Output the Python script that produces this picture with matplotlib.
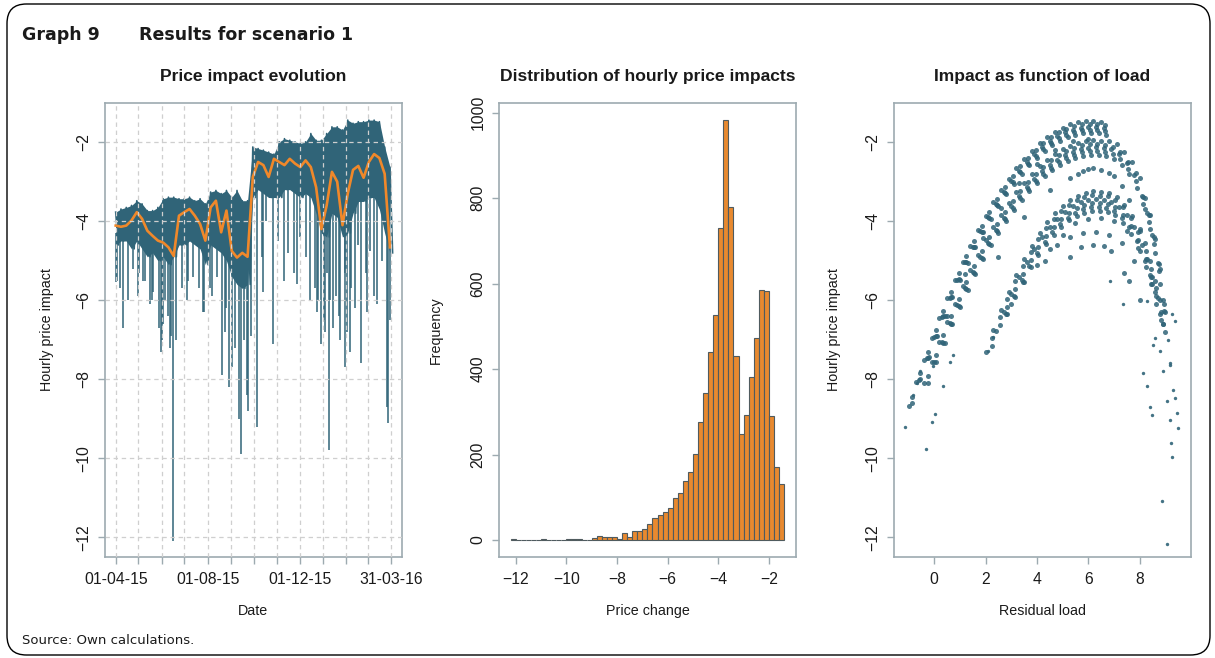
import numpy as np
import pandas as pd
import matplotlib
matplotlib.use('Agg')
import matplotlib.pyplot as plt
from matplotlib.patches import FancyBboxPatch

# --- Data ---

# Panel 1: weekly envelope of the hourly series (top of band / edge of the solid part) and the orange moving average
week_start = pd.date_range('2015-04-01', periods=53, freq='7D')
band_high = [-3.77, -3.69, -3.65, -3.60, -3.48, -3.56, -3.73, -3.73, -3.65, -3.43,
             -3.39, -3.39, -3.43, -3.43, -3.39, -3.48, -3.43, -3.56, -3.26, -3.22,
             -3.30, -3.22, -3.39, -3.22, -3.48, -3.48, -2.12, -2.16, -2.20, -2.25,
             -2.30, -1.99, -1.91, -1.95, -1.99, -2.03, -1.99, -1.78, -1.95, -1.95,
             -1.78, -1.61, -1.61, -1.69, -1.44, -1.52, -1.48, -1.48, -1.44, -1.44,
             -1.48, -2.12, -2.63]
band_low = [-4.6, -4.5, -4.5, -4.7, -4.5, -4.7, -4.9, -4.8, -5.0, -4.9,
            -5.1, -4.9, -4.6, -4.6, -4.5, -4.6, -4.7, -5.1, -4.6, -4.7,
            -4.8, -5.0, -5.4, -5.6, -5.7, -5.6, -3.4, -3.2, -3.3, -3.4,
            -3.4, -3.4, -3.2, -3.2, -3.3, -3.4, -3.3, -3.4, -3.8, -4.3,
            -4.4, -3.8, -3.9, -4.4, -4.3, -3.8, -3.5, -3.5, -3.4, -3.4,
            -3.7, -4.3, -4.8]
moving_avg = [-4.11, -4.14, -4.11, -3.98, -3.77, -3.94, -4.24, -4.37, -4.49, -4.54,
              -4.66, -4.88, -3.86, -3.77, -3.69, -3.86, -4.07, -4.49, -3.65, -3.48,
              -4.28, -3.73, -4.75, -4.92, -4.80, -4.90, -2.88, -2.50, -2.58, -2.88,
              -2.42, -2.50, -2.58, -2.42, -2.54, -2.63, -2.46, -2.63, -3.14, -4.20,
              -3.60, -2.75, -3.00, -4.10, -3.30, -2.70, -2.60, -2.90, -2.50, -2.30,
              -2.40, -2.80, -4.66]
spike_dates = ['2015-04-02', '2015-04-03', '2015-04-07', '2015-04-11', '2015-04-17',
               '2015-04-24', '2015-05-01', '2015-05-02', '2015-05-07', '2015-05-10',
               '2015-05-16', '2015-05-19', '2015-05-21', '2015-05-28', '2015-05-31',
               '2015-06-01', '2015-06-03', '2015-06-05', '2015-06-10', '2015-06-12',
               '2015-06-14', '2015-06-16', '2015-06-20', '2015-06-28', '2015-07-04',
               '2015-07-06', '2015-07-13', '2015-07-20', '2015-07-26', '2015-07-27',
               '2015-08-04', '2015-08-07', '2015-08-13', '2015-08-20', '2015-08-24',
               '2015-08-26', '2015-08-30', '2015-09-02', '2015-09-06', '2015-09-11',
               '2015-09-14', '2015-09-18', '2015-09-22', '2015-09-24', '2015-09-27',
               '2015-10-05', '2015-10-12', '2015-10-14', '2015-10-18', '2015-10-27',
               '2015-11-03', '2015-11-10', '2015-11-16', '2015-11-23', '2015-11-28',
               '2015-12-02', '2015-12-09', '2015-12-15', '2015-12-22', '2015-12-24',
               '2015-12-26', '2015-12-30', '2016-01-02', '2016-01-04', '2016-01-07',
               '2016-01-09', '2016-01-11', '2016-01-15', '2016-01-18', '2016-01-22',
               '2016-01-24', '2016-01-30', '2016-01-31', '2016-02-02', '2016-02-06',
               '2016-02-07', '2016-02-13', '2016-02-16', '2016-02-20', '2016-02-27',
               '2016-02-29', '2016-03-04', '2016-03-09', '2016-03-13', '2016-03-20',
               '2016-03-26', '2016-03-27', '2016-03-30']
spike_values = [-5.55, -5.5, -5.7, -6.7, -6.0,
                -5.2, -5.9, -5.3, -5.5, -5.5,
                -6.1, -6.0, -5.8, -6.7, -7.3,
                -7.0, -6.6, -6.0, -6.4, -7.2,
                -6.9, -12.1, -7.0, -5.7, -6.0,
                -5.5, -5.4, -5.7, -6.3, -6.3,
                -5.7, -5.9, -5.4, -7.9, -6.8,
                -6.2, -8.2, -7.7, -7.2, -9.0,
                -9.9, -7.0, -8.4, -8.8, -6.9,
                -9.2, -4.9, -5.8, -4.0, -7.1,
                -4.5, -5.5, -4.8, -5.3, -5.6,
                -4.4, -4.9, -6.0, -5.7, -6.3,
                -6.0, -7.1, -6.5, -6.8, -5.3,
                -9.8, -6.0, -6.7, -5.9, -6.4,
                -7.0, -7.7, -5.3, -6.8, -7.3,
                -5.7, -6.2, -4.6, -7.6, -5.3,
                -6.3, -4.75, -5.9, -6.1, -5.0,
                -8.7, -9.1, -6.5]
month_ticks = ['2015-04-01', '2015-05-01', '2015-06-01', '2015-07-01', '2015-08-01',
               '2015-09-01', '2015-10-01', '2015-11-01', '2015-12-01', '2016-01-01',
               '2016-02-01', '2016-03-01', '2016-03-31']
month_labels = ['01-04-15', '', '', '', '01-08-15', '', '', '', '01-12-15', '', '', '', '31-03-16']

# Panel 2: histogram, bins of 0.2 from -12.2 to -1.4
bin_left = np.round(np.arange(-12.2, -1.5, 0.2), 1)
bin_counts = [3, 0, 0, 0, 0, 0, 2, 0, 0, 0,
              0, 2, 2, 2, 0, 1, 5, 9, 6, 8,
              8, 2, 17, 8, 20, 20, 26, 37, 51, 58,
              66, 75, 98, 110, 138, 159, 202, 275, 345, 440,
              527, 731, 982, 780, 431, 248, 292, 382, 473, 586,
              583, 289, 171, 130]

# Panel 3: residual load vs impact, points read along the visible arcs
load_top = [-1.0, -0.7, -0.4, -0.1, 0.2, 0.5, 0.8, 1.1, 1.4, 1.7, 2.0, 2.3, 2.6, 2.9, 3.2, 3.5,
            3.8, 4.1, 4.4, 4.7, 5.0, 5.3, 5.6, 5.9, 6.2, 6.5,
            -0.6, -0.3, 0.0, 0.3, 0.6, 0.9, 1.2, 1.5, 1.8, 2.1, 2.4, 2.7, 3.0, 3.3, 3.6, 3.9,
            4.2, 4.5, 4.8, 5.1, 5.4, 5.7, 6.0, 6.3, 6.6,
            -0.2, 0.1, 0.4, 0.7, 1.0, 1.3, 1.6, 1.9, 2.2, 2.5, 2.8, 3.1, 3.4, 3.7, 4.0, 4.3,
            4.6, 4.9, 5.2, 5.5, 5.8, 6.1, 6.4, 6.7,
            0.5, 1.2, 1.9, 2.6, 3.3, 4.0, 4.7, 5.4, 6.0,
            -0.85, -0.55, -0.25, 0.05, 0.35, 0.65, 0.95, 1.25, 1.55, 1.85, 2.15, 2.45, 2.75,
            3.05, 3.35, 3.65, 3.95, 4.25, 4.55, 4.85, 5.15, 5.45, 5.75, 6.05, 6.35, 6.65,
            -0.85, -0.55, -0.25, 0.05, 0.35, 0.65, 0.95, 1.25, 1.55, 1.85, 2.15, 2.45, 2.75,
            3.05, 3.35, 3.65, 3.95, 4.25, 4.55, 4.85, 5.15, 5.45, 5.75, 6.05, 6.35, 6.65]
impact_top = [-8.67, -8.07, -7.50, -6.96, -6.44, -5.94, -5.48, -5.04, -4.62, -4.23, -3.86, -3.52,
              -3.21, -2.92, -2.66, -2.43, -2.22, -2.03, -1.87, -1.74, -1.63, -1.55, -1.50, -1.47,
              -1.46, -1.48,
              -8.03, -7.47, -6.93, -6.42, -5.94, -5.48, -5.04, -4.64, -4.25, -3.90, -3.57, -3.26,
              -2.98, -2.73, -2.50, -2.30, -2.13, -1.98, -1.85, -1.75, -1.68, -1.63, -1.61, -1.62,
              -1.65,
              -7.44, -6.91, -6.41, -5.93, -5.48, -5.05, -4.66, -4.28, -3.94, -3.61, -3.32, -3.05,
              -2.80, -2.58, -2.39, -2.22, -2.08, -1.97, -1.88, -1.81, -1.77, -1.76, -1.77, -1.81,
              -6.39, -5.34, -4.43, -3.66, -3.03, -2.54, -2.19, -1.98, -1.91,
              -8.44, -7.85, -7.30, -6.76, -6.26, -5.78, -5.32, -4.89, -4.49, -4.11, -3.76, -3.43,
              -3.13, -2.86, -2.61, -2.39, -2.19, -2.02, -1.87, -1.75, -1.66, -1.59, -1.55, -1.53,
              -1.54, -1.57,
              -8.59, -8.00, -7.45, -6.91, -6.41, -5.93, -5.47, -5.04, -4.64, -4.26, -3.91, -3.58,
              -3.28, -3.01, -2.76, -2.54, -2.34, -2.17, -2.02, -1.90, -1.81, -1.74, -1.70, -1.68,
              -1.69, -1.72]
load_second = [-0.4, -0.1, 0.2, 0.5, 0.8, 1.1, 1.4, 1.7, 2.0, 2.3, 2.6, 2.9, 3.2, 3.5, 3.8, 4.1,
               4.4, 4.7, 5.0, 5.3, 5.6, 5.9, 6.2, 6.5, 6.8, 7.1, 7.4, 7.7, 8.0, 8.2, 8.4, 8.6,
               8.8, 9.0,
               0.0, 0.3, 0.6, 0.9, 1.2, 1.5, 1.8, 2.1, 2.4, 2.7, 3.0, 3.3, 3.6, 3.9, 4.2, 4.5,
               4.8, 5.1, 5.4, 5.7, 6.0, 6.3, 6.6, 6.9, 7.2, 7.5, 7.8, 8.1, 8.3, 8.5, 8.7, 8.9,
               0.4, 0.7, 1.0, 1.3, 1.6, 1.9, 2.2, 2.5, 2.8, 3.1, 3.4, 3.7, 4.0, 4.3, 4.6, 4.9,
               5.2, 5.5, 5.8, 6.1, 6.4, 6.7, 7.0, 7.3, 7.6, 7.9, 8.2, 8.4, 8.6, 8.8,
               2.5, 3.5, 4.5, 5.3, 5.6, 5.8, 6.0, 6.2, 6.5, 6.8, 7.0, 7.3, 7.6, 8.0,
               -0.25, 0.05, 0.35, 0.65, 0.95, 1.25, 1.55, 1.85, 2.15, 2.45, 2.75, 3.05, 3.35,
               3.65, 3.95, 4.25, 4.55, 4.85, 5.15, 5.45, 5.75, 6.05, 6.35, 6.65, 6.95, 7.25,
               7.55, 7.85, 8.15, 8.35, 8.55, 8.75, 8.95,
               -0.25, 0.05, 0.35, 0.65, 0.95, 1.25, 1.55, 1.85, 2.15, 2.45, 2.75, 3.05, 3.35,
               3.65, 3.95, 4.25, 4.55, 4.85, 5.15, 5.45, 5.75, 6.05, 6.35, 6.65, 6.95, 7.25,
               7.55, 7.85, 8.15, 8.35, 8.55, 8.75, 8.95]
impact_second = [-8.10, -7.56, -7.05, -6.56, -6.09, -5.65, -5.24, -4.85, -4.48, -4.14, -3.83,
                 -3.53, -3.27, -3.02, -2.81, -2.61, -2.44, -2.30, -2.18, -2.09, -2.02, -1.97,
                 -1.95, -1.96, -1.98, -2.05, -2.25, -2.50, -2.90, -3.40, -3.85, -4.45, -5.20,
                 -6.30,
                 -7.57, -7.06, -6.58, -6.12, -5.69, -5.29, -4.90, -4.55, -4.21, -3.91, -3.62,
                 -3.36, -3.13, -2.92, -2.73, -2.57, -2.44, -2.33, -2.24, -2.18, -2.14, -2.13,
                 -2.15, -2.18, -2.30, -2.52, -2.82, -3.35, -3.80, -4.35, -5.05, -6.00,
                 -7.08, -6.61, -6.16, -5.74, -5.34, -4.96, -4.61, -4.29, -3.99, -3.71, -3.46,
                 -3.24, -3.03, -2.86, -2.71, -2.58, -2.48, -2.40, -2.34, -2.32, -2.32, -2.34,
                 -2.42, -2.58, -2.80, -3.15, -3.70, -4.20, -4.80, -5.60,
                 -4.90, -3.90, -3.20, -2.90, -2.80, -2.72, -2.67, -2.66, -2.70, -2.78, -2.85,
                 -3.10, -3.45, -4.20,
                 -7.92, -7.39, -6.89, -6.41, -5.96, -5.53, -5.13, -4.75, -4.40, -4.07, -3.77,
                 -3.49, -3.23, -3.00, -2.80, -2.62, -2.46, -2.33, -2.22, -2.14, -2.08, -2.05,
                 -2.04, -2.06, -2.11, -2.24, -2.49, -2.79, -3.39, -3.84, -4.39, -5.09, -6.09,
                 -8.10, -7.57, -7.07, -6.59, -6.14, -5.71, -5.31, -4.93, -4.58, -4.25, -3.95,
                 -3.67, -3.41, -3.18, -2.98, -2.80, -2.64, -2.51, -2.40, -2.32, -2.26, -2.23,
                 -2.22, -2.24, -2.29, -2.42, -2.67, -2.97, -3.57, -4.02, -4.57, -5.27, -6.27]
load_lower = [2.0, 2.3, 2.6, 2.9, 3.2, 3.5, 3.8, 4.1, 4.4, 4.7, 5.0, 5.3, 5.6, 5.9, 6.2, 6.5,
              6.8, 7.1, 7.4, 7.7, 8.0, 8.2, 8.4, 8.6, 8.8, 9.0,
              2.4, 2.7, 3.0, 3.3, 3.6, 3.9, 4.2, 4.5, 4.8, 5.1, 5.4, 5.7, 6.0, 6.3, 6.6, 6.9,
              7.2, 7.5, 7.8, 8.1, 8.3, 8.5, 8.7, 8.9,
              2.8, 3.1, 3.4, 3.7, 4.0, 4.3, 4.6, 4.9, 5.2, 5.5, 5.8, 6.1, 6.4, 6.7, 7.0, 7.3,
              7.6, 7.9, 8.2, 8.4, 8.6, 8.8,
              3.0, 3.5, 4.0, 4.5, 5.0, 5.5, 6.0, 6.5, 7.0, 7.5, 8.0, 8.5, 8.9,
              4.3, 4.8, 5.3, 5.8, 6.3, 6.8, 7.3, 7.8,
              5.3, 5.7, 6.2, 6.6, 6.9, 7.4, 7.6, 8.0,
              2.25, 2.55, 2.85, 3.15, 3.45, 3.75, 4.05, 4.35, 4.65, 4.95, 5.25, 5.55, 5.85,
              6.15, 6.45, 6.75, 7.05, 7.35, 7.65, 7.95, 8.25, 8.45, 8.65, 8.85,
              2.25, 2.55, 2.85, 3.15, 3.45, 3.75, 4.05, 4.35, 4.65, 4.95, 5.25, 5.55, 5.85,
              6.15, 6.45, 6.75, 7.05, 7.35, 7.65, 7.95, 8.25, 8.45, 8.65, 8.85,
              2.85, 3.15, 3.45, 3.75, 4.05, 4.35, 4.65, 4.95, 5.25, 5.55, 5.85, 6.15, 6.45,
              6.75, 7.05, 7.35, 7.65, 7.95, 8.25, 8.45, 8.65]
impact_lower = [-7.31, -6.76, -6.25, -5.78, -5.35, -4.96, -4.62, -4.30, -4.03, -3.80, -3.61,
                -3.46, -3.35, -3.28, -3.24, -3.25, -3.28, -3.38, -3.60, -3.88, -4.25, -4.55,
                -5.00, -5.50, -6.00, -6.80,
                -6.79, -6.29, -5.84, -5.42, -5.04, -4.71, -4.41, -4.15, -3.94, -3.76, -3.62,
                -3.52, -3.46, -3.44, -3.46, -3.52, -3.65, -3.85, -4.15, -4.60, -4.95, -5.40,
                -5.95, -6.60,
                -6.34, -5.89, -5.49, -5.13, -4.80, -4.52, -4.28, -4.07, -3.91, -3.78, -3.70,
                -3.65, -3.64, -3.66, -3.75, -3.92, -4.15, -4.50, -5.00, -5.35, -5.80, -6.35,
                -6.10, -5.55, -5.10, -4.70, -4.35, -4.05, -3.94, -3.92, -4.00, -4.25, -4.75,
                -5.60, -6.60,
                -5.00, -4.60, -4.40, -4.30, -4.28, -4.35, -4.55, -5.00,
                -4.90, -4.66, -4.60, -4.62, -4.75, -5.30, -5.50, -6.00,
                -6.95, -6.43, -5.96, -5.52, -5.13, -4.77, -4.45, -4.18, -3.94, -3.74, -3.58,
                -3.46, -3.38, -3.34, -3.35, -3.37, -3.45, -3.65, -3.92, -4.28, -4.75, -5.20,
                -5.70, -6.30,
                -7.15, -6.63, -6.16, -5.72, -5.33, -4.97, -4.65, -4.38, -4.14, -3.94, -3.78,
                -3.66, -3.58, -3.54, -3.55, -3.57, -3.65, -3.85, -4.12, -4.48, -4.95, -5.40,
                -5.90, -6.50,
                -6.36, -5.92, -5.53, -5.17, -4.85, -4.58, -4.34, -4.14, -3.98, -3.86, -3.78,
                -3.74, -3.75, -3.77, -3.85, -4.05, -4.32, -4.68, -5.15, -5.60, -6.10]
load_outlier = [-1.14, -0.82, -0.69, -0.56, -0.32, -0.08, 0.03, -0.06, 0.35, 0.61, 0.74, 2.10,
                2.27, 8.14, 8.27, 8.40, 8.47, 8.60, 8.86, 9.05, 8.92, 9.05, 9.18, 9.21, 9.25,
                9.31, 9.38, 9.44, 9.50, 9.18, 8.79, 8.53, 9.25, 9.38, 8.27, 7.37, 6.85, 9.10,
                9.20]
impact_outlier = [-9.20, -8.40, -8.10, -7.80, -9.77, -9.07, -8.88, -7.67, -8.18, -7.55, -7.38,
                  -7.28, -6.94, -7.84, -8.18, -8.69, -8.90, -6.95, -11.07, -12.17, -7.80, -8.56,
                  -9.03, -9.61, -9.96, -8.27, -8.48, -8.86, -9.24, -7.63, -7.29, -7.12, -6.36,
                  -6.53, -6.02, -6.10, -5.51, -7.00, -7.60]

# --- Style ---
TEAL = '#306478'
ORANGE = '#F0882A'
BAR_FILL = '#E8892F'
BAR_EDGE = '#4F5B5F'
FRAME = '#9DAAB0'
TXT = '#1a1a1a'
plt.rcParams['font.family'] = ['Liberation Sans', 'DejaVu Sans']

W, H = 1215, 658
fig = plt.figure(figsize=(W / 100, H / 100), dpi=100)


def box(left, right, top=102.7, bottom=556.7):
    return fig.add_axes([left / W, 1 - bottom / H, (right - left) / W, (bottom - top) / H])


def style(ax):
    for s in ax.spines.values():
        s.set_color(FRAME)
        s.set_linewidth(1.2)
    ax.tick_params(direction='out', length=5, width=1, color=FRAME, labelcolor=TXT,
                   labelsize=11.3, pad=6)
    ax.tick_params(axis='y', pad=5)
    for lbl in ax.get_yticklabels():
        lbl.set_rotation(90)
        lbl.set_va('center')


ax1 = box(104.7, 401.7)
ax2 = box(499.3, 796.0)
ax3 = box(894.0, 1190.7)
title_kw = dict(fontsize=12.6, fontweight='bold', color=TXT, pad=0, y=1.047)
label_kw = dict(fontsize=10.3, color=TXT)

# === 1. Price impact evolution ===
half_week = week_start + pd.Timedelta(hours=84)
zig_x = np.empty(2 * len(week_start), dtype='datetime64[ns]')
zig_x[0::2] = week_start.values
zig_x[1::2] = half_week.values
zig_y = np.empty(2 * len(week_start))
zig_y[0::2] = band_high
zig_y[1::2] = band_low
ax1.fill_between(week_start, band_high, band_low, color=TEAL, lw=0, zorder=1.5)
ax1.plot(zig_x, zig_y, color=TEAL, lw=1.2, zorder=1.6)
sp_x = pd.to_datetime(spike_dates)
sp_top = np.interp(sp_x.values.astype('int64'), week_start.values.astype('int64'), band_low) + 0.3
ax1.vlines(sp_x, spike_values, sp_top, color=TEAL, lw=1.1, zorder=1.6)
ax1.plot(week_start, moving_avg, color=ORANGE, lw=1.9, zorder=1.8)

ticks1 = pd.to_datetime(month_ticks)
ax1.set_xticks(ticks1)
ax1.set_xticklabels(month_labels)
ax1.set_xlim(ticks1[0] - pd.Timedelta(days=14.6), ticks1[-1] + pd.Timedelta(days=14.6))
ax1.set_ylim(-12.49, -1.0)
ax1.set_yticks([-12, -10, -8, -6, -4, -2])
ax1.set_axisbelow(False)
ax1.grid(True, color='#cfcfcf', lw=0.9, linestyle=(0, (3.5, 3)), zorder=2.5)
ax1.set_title('Price impact evolution', **title_kw)
ax1.set_xlabel('Date', **label_kw)
ax1.set_ylabel('Hourly price impact', **label_kw)
style(ax1)

# === 2. Distribution of hourly price impacts ===
ax2.bar(bin_left, bin_counts, width=0.2, align='edge', color=BAR_FILL, edgecolor=BAR_EDGE,
        linewidth=0.8)
ax2.set_xlim(-12.65, -0.93)
ax2.set_ylim(-39, 1023)
ax2.set_xticks([-12, -10, -8, -6, -4, -2])
ax2.set_yticks([0, 200, 400, 600, 800, 1000])
ax2.set_title('Distribution of hourly price impacts', **title_kw)
ax2.set_xlabel('Price change', **label_kw)
ax2.set_ylabel('Frequency', **label_kw)
style(ax2)

# === 3. Impact as function of load ===
for lx, iy in [(load_top, impact_top), (load_second, impact_second), (load_lower, impact_lower)]:
    ax3.scatter(lx, iy, s=13, color=TEAL, lw=0, alpha=0.85)
ax3.scatter(load_outlier, impact_outlier, s=6, color=TEAL, lw=0, alpha=0.9)
ax3.set_xlim(-1.57, 9.99)
ax3.set_ylim(-12.49, -1.0)
ax3.set_xticks([0, 2, 4, 6, 8])
ax3.set_yticks([-12, -10, -8, -6, -4, -2])
ax3.set_title('Impact as function of load', **title_kw)
ax3.set_xlabel('Residual load', **label_kw)
ax3.set_ylabel('Hourly price impact', **label_kw)
style(ax3)

for ax, yl in [(ax1, -0.172), (ax2, -0.19), (ax3, -0.179)]:
    ax.xaxis.set_label_coords(0.5, -0.105)
    ax.yaxis.set_label_coords(yl, 0.5)

# --- Frame, heading, source ---
fig.patches.append(FancyBboxPatch((7 / W, 3 / H), 1203 / W, 651 / H,
                                  boxstyle='round,pad=0,rounding_size=0.016',
                                  mutation_aspect=W / H, transform=fig.transFigure,
                                  fill=False, ec='black', lw=1.0))
fig.text(22 / W, 1 - 40 / H, 'Graph 9', family='DejaVu Sans', fontweight='bold',
         fontsize=12.5, color=TXT, va='baseline')
fig.text(139 / W, 1 - 40 / H, 'Results for scenario 1', family='DejaVu Sans',
         fontweight='bold', fontsize=12.5, color=TXT, va='baseline')
fig.text(22 / W, 1 - 640 / H, 'Source: Own calculations.', family='DejaVu Sans',
         fontsize=9.5, color=TXT, va='center')

fig.savefig('out.png', dpi=100)
